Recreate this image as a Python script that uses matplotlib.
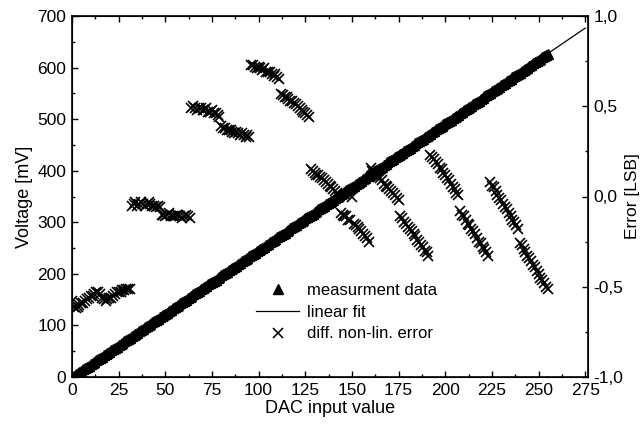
import numpy as np
import matplotlib
matplotlib.use("Agg")
import matplotlib.pyplot as plt
from matplotlib.ticker import MultipleLocator, FuncFormatter

plt.rcParams['font.family'] = ['Liberation Sans', 'DejaVu Sans']
plt.rcParams['font.size'] = 12

# measured DAC output voltage [mV], codes 0..255 (16 codes per row)
volts = [
    0, 2, 5, 7, 10, 12, 15, 17, 20, 22, 25, 27, 30, 32, 34, 37,
    39, 42, 44, 47, 49, 52, 54, 57, 59, 62, 64, 66, 69, 71, 74, 76,
    79, 81, 84, 86, 89, 91, 93, 96, 98, 101, 103, 106, 108, 111, 113, 116,
    118, 121, 123, 125, 128, 130, 133, 135, 138, 140, 143, 145, 148, 150, 153, 155,
    157, 160, 162, 165, 167, 170, 172, 175, 177, 180, 182, 184, 187, 189, 192, 194,
    197, 199, 202, 204, 207, 209, 212, 214, 216, 219, 221, 224, 226, 229, 231, 234,
    236, 239, 241, 244, 246, 248, 251, 253, 256, 258, 261, 263, 266, 268, 271, 273,
    276, 278, 280, 283, 285, 288, 290, 293, 295, 298, 300, 303, 305, 308, 310, 312,
    315, 317, 320, 322, 325, 327, 330, 332, 335, 337, 339, 342, 344, 347, 349, 352,
    354, 357, 359, 362, 364, 367, 369, 371, 374, 376, 379, 381, 384, 386, 389, 391,
    394, 396, 399, 401, 403, 406, 408, 411, 413, 416, 418, 421, 423, 426, 428, 430,
    433, 435, 438, 440, 443, 445, 448, 450, 453, 455, 458, 460, 462, 465, 467, 470,
    472, 475, 477, 480, 482, 485, 487, 490, 492, 494, 497, 499, 502, 504, 507, 509,
    512, 514, 517, 519, 522, 524, 526, 529, 531, 534, 536, 539, 541, 544, 546, 549,
    551, 554, 556, 558, 561, 563, 566, 568, 571, 573, 576, 578, 581, 583, 585, 588,
    590, 593, 595, 598, 600, 603, 605, 608, 610, 613, 615, 617, 620, 622, 625, 627,
]

# differential non-linearity error [LSB], codes 0..255 (16 codes per row)
dnl = [
    -0.58, -0.61, -0.62, -0.61, -0.60, -0.59, -0.59, -0.58, -0.57, -0.56, -0.55, -0.55, -0.54, -0.53, -0.53, -0.54,
    -0.56, -0.57, -0.58, -0.57, -0.56, -0.56, -0.55, -0.54, -0.53, -0.53, -0.53, -0.52, -0.52, -0.51, -0.51, -0.51,
    -0.05, -0.04, -0.03, -0.05, -0.04, -0.03, -0.04, -0.05, -0.04, -0.03, -0.04, -0.05, -0.05, -0.06, -0.05, -0.06,
    -0.10, -0.10, -0.11, -0.10, -0.09, -0.11, -0.11, -0.11, -0.10, -0.10, -0.11, -0.12, -0.11, -0.10, -0.11, -0.12,
    0.49, 0.50, 0.49, 0.48, 0.49, 0.49, 0.48, 0.48, 0.49, 0.47, 0.47, 0.48, 0.46, 0.46, 0.45, 0.44,
    0.39, 0.38, 0.38, 0.37, 0.37, 0.37, 0.36, 0.35, 0.36, 0.35, 0.34, 0.35, 0.34, 0.33, 0.34, 0.33,
    0.73, 0.73, 0.72, 0.71, 0.72, 0.71, 0.70, 0.71, 0.69, 0.69, 0.69, 0.68, 0.67, 0.68, 0.66, 0.65,
    0.57, 0.56, 0.55, 0.55, 0.54, 0.53, 0.53, 0.52, 0.51, 0.50, 0.49, 0.48, 0.47, 0.46, 0.45, 0.44,
    0.15, 0.14, 0.13, 0.12, 0.12, 0.11, 0.10, 0.09, 0.08, 0.07, 0.06, 0.05, 0.04, 0.03, 0.02, 0.00,
    -0.09, -0.10, -0.11, -0.11, -0.13, -0.13, 0.00, -0.15, -0.16, -0.17, -0.18, -0.19, -0.21, -0.22, -0.23, -0.25,
    0.16, 0.14, 0.13, 0.12, 0.11, 0.10, 0.09, 0.07, 0.06, 0.05, 0.04, 0.03, 0.02, 0.01, -0.01, -0.02,
    -0.11, -0.12, -0.14, -0.15, -0.17, -0.18, -0.19, -0.21, -0.22, -0.24, -0.25, -0.27, -0.28, -0.30, -0.31, -0.33,
    0.23, 0.22, 0.21, 0.19, 0.18, 0.16, 0.15, 0.13, 0.12, 0.10, 0.09, 0.07, 0.05, 0.04, 0.02, 0.01,
    -0.08, -0.10, -0.11, -0.13, -0.15, -0.16, -0.18, -0.19, -0.21, -0.23, -0.25, -0.26, -0.28, -0.29, -0.31, -0.33,
    0.08, 0.06, 0.05, 0.03, 0.01, -0.01, -0.02, -0.04, -0.06, -0.07, -0.09, -0.11, -0.13, -0.14, -0.16, -0.18,
    -0.26, -0.27, -0.29, -0.31, -0.33, -0.34, -0.36, -0.38, -0.39, -0.41, -0.43, -0.45, -0.46, -0.48, -0.50, -0.51,
]

codes = np.arange(len(volts))
err_codes = np.arange(len(dnl))

# linear fit through the measurement
slope, icept = np.polyfit(codes, volts, 1)
fit_x = np.array([0, 275])

fig = plt.figure(figsize=(6.44, 4.25), dpi=100)
ax = fig.add_axes([72 / 644, 1 - 377 / 425, (588 - 72) / 644, (377 - 16) / 425])
ax2 = ax.twinx()

h1, = ax.plot(codes, volts, '^', color='black', ms=7.5, mec='black', label='measurment data')
h2, = ax.plot(fit_x, slope * fit_x + icept, '-', color='black', lw=0.9, label='linear fit')
h3, = ax2.plot(err_codes, dnl, 'x', color='black', ms=7, mew=1.2, label='diff. non-lin. error')

ax.set_xlim(0, 276.5)
ax.set_ylim(0, 700)
ax2.set_ylim(-1, 1)

ax.xaxis.set_major_locator(MultipleLocator(25))
ax.xaxis.set_minor_locator(MultipleLocator(12.5))
ax.yaxis.set_major_locator(MultipleLocator(100))
ax.yaxis.set_minor_locator(MultipleLocator(50))
ax2.yaxis.set_major_locator(MultipleLocator(0.5))
ax2.yaxis.set_minor_locator(MultipleLocator(0.25))
ax2.yaxis.set_major_formatter(FuncFormatter(lambda v, p: f"{v:.1f}".replace('.', ',').replace('\u2212', '-')))

ax.tick_params(axis='both', which='both', direction='in', top=True, width=1)
ax.tick_params(axis='both', which='major', length=4.5, labelsize=12.5, pad=4)
ax.tick_params(axis='both', which='minor', length=2.5)
ax.tick_params(axis='y', left=True, right=False)
ax2.tick_params(axis='y', which='both', direction='in', width=1)
ax2.tick_params(axis='y', which='major', length=4.5, labelsize=12.5, pad=4)
ax2.tick_params(axis='y', which='minor', length=2.5)

for sp in ax2.spines.values():
    sp.set_linewidth(1.2)

ax.set_xlabel('DAC input value', fontsize=13, labelpad=2)
ax.set_ylabel('Voltage [mV]', fontsize=13, labelpad=3)
ax2.set_ylabel('Error [LSB]', fontsize=12.5, labelpad=1)

fig.legend(handles=[h1, h2, h3], loc='upper left', bbox_to_anchor=(256 / 644, 1 - 283 / 425),
           frameon=False, fontsize=12, handlelength=2.6, handletextpad=0.45,
           labelspacing=0.4, borderpad=0, borderaxespad=0)

fig.savefig('out.png', dpi=100)
